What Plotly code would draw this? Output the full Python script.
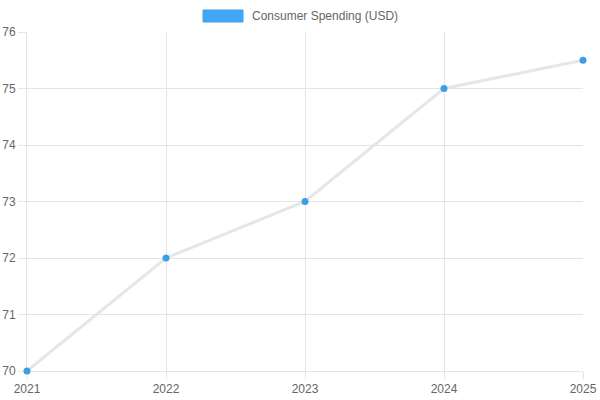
import plotly.graph_objects as go

years = ["2021", "2022", "2023", "2024", "2025"]
spending = [70, 72, 73, 75, 75.5]
series_name = "Consumer Spending (USD)"

L, R, T, B = 27, 17, 32, 29
W, H = 600, 400
pw, ph = W - L - R, H - T - B

def px_x(p):
    return (p - L) / pw

def px_y(p):
    return (H - B - p) / ph

fig = go.Figure()
fig.add_trace(go.Scatter(
    x=years, y=spending, mode="lines+markers", name=series_name,
    line=dict(color="#e6e6e6", width=3),
    marker=dict(color="#3d9fe3", size=7),
    showlegend=False, cliponaxis=False,
))

grid = "#e5e5e5"
fig.update_layout(
    width=W, height=H,
    margin=dict(l=L, r=R, t=T, b=B, autoexpand=False),
    paper_bgcolor="white", plot_bgcolor="white",
    font=dict(family="Liberation Sans, Arial, sans-serif", size=12, color="#666"),
    xaxis=dict(type="category", range=[0, 4], showgrid=True, gridcolor=grid,
               ticks="outside", ticklen=7, tickcolor=grid, showline=True,
               linecolor=grid, zeroline=False, automargin=False,
               layer="below traces"),
    yaxis=dict(range=[70, 76], dtick=1, showgrid=True, gridcolor=grid,
               ticks="outside", ticklen=8, tickcolor=grid, showline=True,
               linecolor=grid, zeroline=False, automargin=False,
               layer="below traces"),
    shapes=[dict(type="rect", xref="paper", yref="paper",
                 x0=px_x(203), x1=px_x(243), y0=px_y(22), y1=px_y(10),
                 fillcolor="#42a5f5", line=dict(color="#36a2eb", width=1))],
    annotations=[dict(text=series_name, xref="paper", yref="paper",
                      x=px_x(250), y=px_y(16), xanchor="left", yanchor="middle",
                      showarrow=False, font=dict(size=12, color="#666"))],
)
fig.write_html("out.html")
